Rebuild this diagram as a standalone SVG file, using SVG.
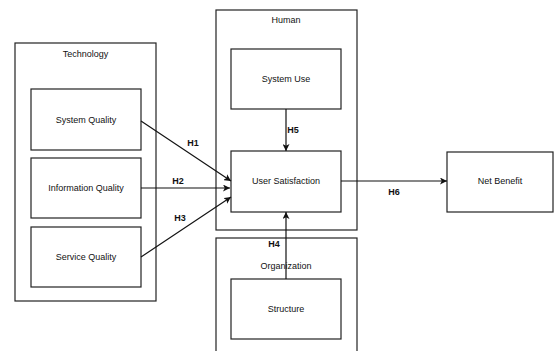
<svg xmlns="http://www.w3.org/2000/svg" width="555" height="351" viewBox="0 0 555 351">
<defs>
<marker id="ah" viewBox="0 0 10 10" refX="10" refY="5" markerWidth="7" markerHeight="7" orient="auto" markerUnits="userSpaceOnUse">
<path d="M0,0 L10,5 L0,10 L2.5,5 Z" fill="#111"/>
</marker>
<style>
rect{fill:#fff;stroke:#222;stroke-width:1.2}
text{font-family:"Liberation Sans",Arial,sans-serif;font-size:9px;fill:#111;text-anchor:middle}
.lbl{font-weight:bold}
.c{stroke:#111;stroke-width:1.2;fill:none;marker-end:url(#ah)}
</style>
</defs>
<rect width="555" height="351" style="fill:#fff;stroke:none"/>
<g id="technology">
<rect x="15" y="43" width="141" height="258"/>
<text x="85.5" y="57">Technology</text>
</g>
<g id="system-quality">
<rect x="31" y="89" width="110" height="61"/>
<text x="86" y="123">System Quality</text>
</g>
<g id="information-quality">
<rect x="31" y="158" width="110" height="60"/>
<text x="86" y="191">Information Quality</text>
</g>
<g id="service-quality">
<rect x="31" y="227" width="110" height="60"/>
<text x="86" y="260">Service Quality</text>
</g>
<g id="human">
<rect x="216" y="10" width="141" height="220"/>
<text x="286" y="23">Human</text>
</g>
<g id="system-use">
<rect x="231" y="49" width="110" height="60"/>
<text x="286" y="82">System Use</text>
</g>
<g id="user-satisfaction">
<rect x="231" y="151" width="110" height="61"/>
<text x="286" y="184">User Satisfaction</text>
</g>
<g id="organization">
<rect x="216" y="238" width="141" height="120"/>
<text x="286" y="269">Organization</text>
</g>
<g id="structure">
<rect x="231" y="279" width="110" height="60"/>
<text x="286" y="312">Structure</text>
</g>
<g id="net-benefit">
<rect x="447" y="152" width="106" height="60"/>
<text x="500" y="184">Net Benefit</text>
</g>
<g id="connectors">
<line class="c" x1="141" y1="121" x2="231" y2="181"/>
<line class="c" x1="141" y1="188" x2="230" y2="188"/>
<line class="c" x1="141" y1="257" x2="231" y2="197"/>
<line class="c" x1="286" y1="109" x2="286" y2="151"/>
<line class="c" x1="286" y1="279" x2="286" y2="212"/>
<line class="c" x1="341" y1="181" x2="447" y2="181"/>
<text class="lbl" x="193" y="146">H1</text>
<text class="lbl" x="178" y="184">H2</text>
<text class="lbl" x="180" y="221">H3</text>
<text class="lbl" x="293" y="133">H5</text>
<text class="lbl" x="274" y="247">H4</text>
<text class="lbl" x="394" y="195">H6</text>
</g>
</svg>
